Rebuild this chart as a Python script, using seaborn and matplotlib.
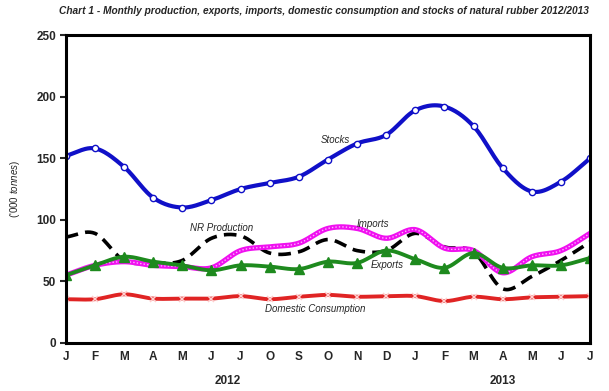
import numpy as np
import matplotlib
matplotlib.use("Agg")
import matplotlib.pyplot as plt
import seaborn as sns

# data ('000 tonnes), Jan 2012 .. Jul 2013
months = ["J", "F", "M", "A", "M", "J", "J", "O", "S", "O", "N", "D",
          "J", "F", "M", "A", "M", "J", "J"]
stocks = [152, 158, 143, 118, 110, 116, 125, 130, 135, 149, 162, 169,
          189, 192, 176, 142, 123, 131, 150]
nr_production = [86, 89, 67, 65, 67, 85, 87, 73, 74, 84, 75, 75,
                 89, 78, 74, 44, 54, 67, 82]
imports = [55, 63, 66, 63, 62, 61, 75, 78, 81, 93, 93, 85,
           92, 77, 75, 57, 70, 75, 89]
exports = [55, 63, 70, 66, 63, 59, 63, 62, 60, 66, 65, 75,
           68, 61, 73, 61, 63, 63, 69]
domestic = [35.5, 35.5, 39.5, 36, 36, 36, 38, 35.5, 37.5, 39, 37.5, 38,
            38, 34, 37.5, 35.5, 37, 37.5, 38]
years = ["2012", "2013"]


def smooth(vals, n=24):
    # catmull-rom curve through the points, like Excel's smoothed line
    y = np.asarray(vals, dtype=float)
    p = np.concatenate([[2 * y[0] - y[1]], y, [2 * y[-1] - y[-2]]])
    xs, ys = [], []
    for i in range(len(y) - 1):
        t = np.linspace(0, 1, n, endpoint=False)
        p0, p1, p2, p3 = p[i], p[i + 1], p[i + 2], p[i + 3]
        seg = 0.5 * ((2 * p1) + (-p0 + p2) * t
                     + (2 * p0 - 5 * p1 + 4 * p2 - p3) * t ** 2
                     + (-p0 + 3 * p1 - 3 * p2 + p3) * t ** 3)
        xs.append(i + t)
        ys.append(seg)
    xs.append([len(y) - 1])
    ys.append([y[-1]])
    return np.concatenate(xs), np.concatenate(ys)


sns.set_style("white")
plt.rcParams["font.family"] = ["Liberation Sans", "DejaVu Sans"]
plt.rcParams["mathtext.fontset"] = "custom"
plt.rcParams["mathtext.it"] = "Liberation Sans:italic"
plt.rcParams["mathtext.rm"] = "Liberation Sans"

fig = plt.figure(figsize=(6.09, 3.91), dpi=100)
ax = fig.add_axes([0.108, 0.123, 0.861, 0.787])
x = np.arange(len(months))

# NR production
sx, sy = smooth(nr_production)
sns.lineplot(x=sx, y=sy, ax=ax, color="black", lw=2.6, sort=False,
             linestyle=(0, (3.5, 2)))

# imports
sx, sy = smooth(imports)
sns.lineplot(x=sx, y=sy, ax=ax, color="#f010f0", lw=3.8, sort=False)
ax.plot(sx, sy, color="#ffb4ff", lw=1.0, linestyle=(0, (1, 1.5)))

# exports
sx, sy = smooth(exports)
sns.lineplot(x=sx, y=sy, ax=ax, color="#1e8a1e", lw=2.8, sort=False)
ax.plot(x, exports, linestyle="none", marker="^", ms=6.5, color="#1e8a1e")

# domestic consumption
sx, sy = smooth(domestic)
sns.lineplot(x=sx, y=sy, ax=ax, color="#e02424", lw=2.8, sort=False)
ax.plot(x, domestic, linestyle="none", marker="x", ms=4.5, mew=1.1,
        color="#ffd0d0")

# stocks
sx, sy = smooth(stocks)
sns.lineplot(x=sx, y=sy, ax=ax, color="#1010c8", lw=3.0, sort=False)
ax.plot(x, stocks, linestyle="none", marker="o", ms=4.5, mfc="white",
        mec="#1010c8", mew=1.0)

ax.set_xlim(0, len(months) - 1)
ax.set_ylim(0, 250)
ax.set_yticks(range(0, 251, 50))
ax.set_xticks(x)
ax.set_xticklabels(months, fontsize=8.5, fontweight="bold")
for lab in ax.get_yticklabels():
    lab.set_fontsize(8.5)
    lab.set_fontweight("bold")
ax.tick_params(axis="x", length=0, pad=6)
ax.tick_params(axis="y", length=4, width=1.5, direction="out", pad=3,
               left=True)
for s in ax.spines.values():
    s.set_linewidth(2.2)
    s.set_color("black")
ax.set_xlabel("")
ax.set_ylabel("('000 $\\it{tonnes}$)", fontsize=7, labelpad=10)

ax.text(9.24, 165, "Stocks", fontsize=7, style="italic", ha="center", va="center")
ax.text(5.36, 93, "NR Production", fontsize=7, style="italic", ha="center", va="center")
ax.text(10.55, 97, "Imports", fontsize=7, style="italic", ha="center", va="center")
ax.text(11.05, 63, "Exports", fontsize=7, style="italic", ha="center", va="center")
ax.text(8.55, 27.6, "Domestic Consumption", fontsize=7, style="italic",
        ha="center", va="center")

fig.text(228 / 609, 1 - 381 / 391, years[0], fontsize=8.5, fontweight="bold",
         ha="center", va="center")
fig.text(503 / 609, 1 - 381 / 391, years[1], fontsize=8.5, fontweight="bold",
         ha="center", va="center")
fig.text(324 / 609, 1 - 11 / 391,
         "Chart 1 - Monthly production, exports, imports, domestic consumption "
         "and stocks of natural rubber 2012/2013",
         fontsize=7.3, style="italic", fontweight="bold", ha="center", va="center")

fig.savefig("out.png", dpi=100)
